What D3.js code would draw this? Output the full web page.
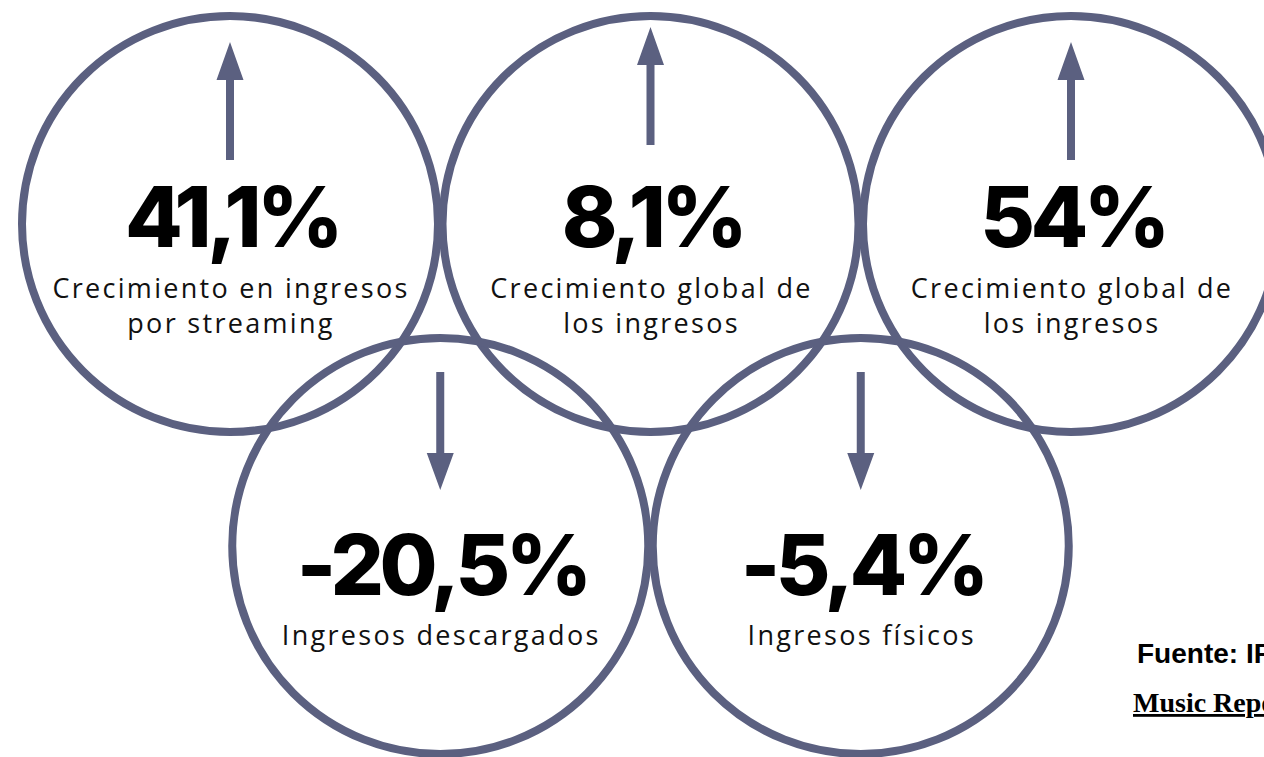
<!DOCTYPE html>
<html>
<head>
<meta charset="utf-8">
<script src="https://cdn.jsdelivr.net/npm/d3@7"></script>
<style>
  body { margin: 0; background: #fff; overflow: hidden; }
</style>
</head>
<body>
<div id="chart"></div>
<script>
// data
const values = ["41,1%", "8,1%", "54%", "-20,5%", "-5,4%"];
const labels = [
  ["Crecimiento en ingresos", "por streaming"],
  ["Crecimiento global de", "los ingresos"],
  ["Crecimiento global de", "los ingresos"],
  ["Ingresos descargados"],
  ["Ingresos físicos"]
];
const direction = ["up", "up", "up", "down", "down"];
const slot = [0, 1, 2, 0.5, 1.5];
const row = [0, 0, 0, 1, 1];
const sourceLines = ["Fuente: IFPI Global", "Music Report 2021"];

const WIDTH = 1264, HEIGHT = 757;
const R = 208;
const COLOR = "#5b6080";

const svg = d3.select("#chart").append("svg")
    .attr("width", WIDTH)
    .attr("height", HEIGHT);

const x = d3.scaleLinear().domain([0, 2]).range([230, 1071]);
const y = d3.scaleLinear().domain([0, 1]).range([224, 546]);

const items = values.map((v, i) => ({
    value: v, label: labels[i], dir: direction[i], cx: x(slot[i]), cy: y(row[i]), i
}));

// rings
svg.selectAll("circle.ring")
    .data(items)
    .enter().append("circle")
    .attr("class", "ring")
    .attr("cx", d => d.cx)
    .attr("cy", d => d.cy)
    .attr("r", R)
    .attr("fill", "none")
    .attr("stroke", COLOR)
    .attr("stroke-width", 8);

// arrows
function arrowPath(d) {
    const cx = d.cx, sw = 4, hw = 13.5;
    if (d.dir === "up") {
        const shift = d.i === 1 ? -15 : 0;
        const tip = d.cy - 182 + shift, base = d.cy - 144 + shift, end = d.cy - 64 + shift;
        return `M${cx},${tip} L${cx + hw},${base} L${cx + sw},${base} L${cx + sw},${end} L${cx - sw},${end} L${cx - sw},${base} L${cx - hw},${base} Z`;
    }
    const top = d.cy - 174, base = d.cy - 93, tip = d.cy - 56;
    return `M${cx - sw},${top} L${cx + sw},${top} L${cx + sw},${base} L${cx + hw},${base} L${cx},${tip} L${cx - hw},${base} L${cx - sw},${base} Z`;
}

svg.selectAll("path.arrow")
    .data(items)
    .enter().append("path")
    .attr("class", "arrow")
    .attr("d", arrowPath)
    .attr("fill", COLOR);

// big numbers
svg.selectAll("text.value")
    .data(items)
    .enter().append("text")
    .attr("class", "value")
    .attr("x", d => d.cx + 2)
    .attr("y", d => d.cy + (d.dir === "up" ? 23 : 49))
    .attr("text-anchor", "middle")
    .style("font-family", "Inter, 'Open Sans', sans-serif")
    .style("font-weight", 800)
    .style("font-size", "84px")
    .style("letter-spacing", "-4.5px")
    .attr("fill", "#000")
    .text(d => d.value);

// captions
const cap = svg.selectAll("text.caption")
    .data(items)
    .enter().append("text")
    .attr("class", "caption")
    .attr("text-anchor", "middle")
    .style("font-family", "'Open Sans', sans-serif")
    .style("font-size", "27px")
    .style("letter-spacing", "2.3px")
    .attr("fill", "#111");

cap.selectAll("tspan")
    .data(d => d.label.map((t, k) => ({ t, k, d })))
    .enter().append("tspan")
    .attr("x", o => o.d.cx + 1)
    .attr("y", o => o.d.cy + (o.d.dir === "up" ? 74 : 99) + o.k * 35)
    .text(o => o.t);

// source note
svg.append("text")
    .attr("x", 1137)
    .attr("y", 663)
    .style("font-family", "'Liberation Sans', Arial, sans-serif")
    .style("font-weight", "bold")
    .style("font-size", "28px")
    .text(sourceLines[0]);

svg.append("text")
    .attr("x", 1133)
    .attr("y", 712)
    .style("font-family", "'Liberation Serif', 'Times New Roman', serif")
    .style("font-weight", "bold")
    .style("font-size", "28px")
    .style("text-decoration", "underline")
    .text(sourceLines[1]);
</script>
</body>
</html>
